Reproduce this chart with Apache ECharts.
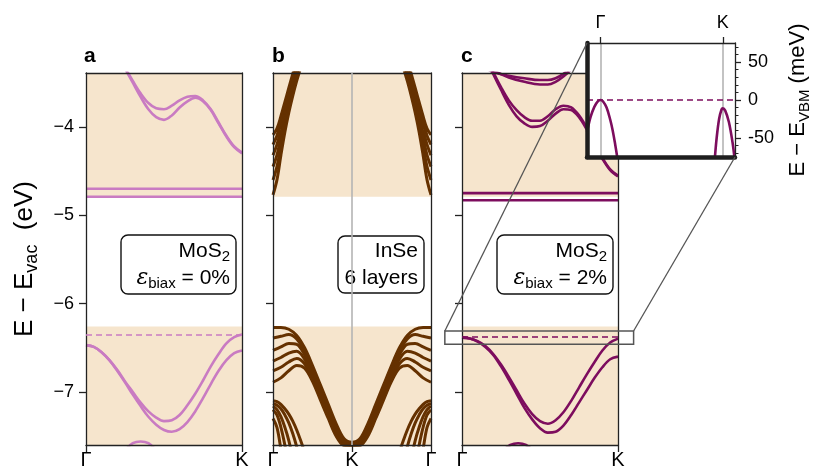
<!DOCTYPE html>
<html><head><meta charset="utf-8">
<script src="https://cdn.jsdelivr.net/npm/echarts@6/dist/echarts.min.js"></script>
<style>html,body{margin:0;padding:0;background:#fff}#c{width:813px;height:474px}</style>
</head><body><div id="c"></div>
<script>
// ---------------- data ----------------
const yMin = -7.6, yMax = -3.39;
const yTicks = [-7, -6, -5, -4];
const xTicksAC = [0, 1], xLabelsAC = ['Γ', 'K'];
const xTicksB = [0, 1, 2], xLabelsB = ['Γ', 'K', 'Γ'];
const shadeCBM = -4.79, shadeVBM = -6.26;

// panel a : MoS2, 0 %
const kV = [0,0.05,0.1,0.15,0.2,0.25,0.3,0.35,0.4,0.45,0.5,0.55,0.6,0.65,0.7,0.75,0.8,0.85,0.9,0.95,1.0];
const aVal1 = [-6.47,-6.49,-6.55,-6.64,-6.75,-6.88,-7.00,-7.12,-7.22,-7.29,-7.33,-7.32,-7.26,-7.15,-7.02,-6.87,-6.71,-6.57,-6.45,-6.38,-6.35];
const aVal2 = [-6.47,-6.49,-6.55,-6.64,-6.76,-6.89,-7.03,-7.16,-7.28,-7.37,-7.43,-7.45,-7.42,-7.34,-7.22,-7.07,-6.91,-6.76,-6.64,-6.56,-6.53];
const kCA = [0.2,0.25,0.3,0.35,0.4,0.45,0.5,0.55,0.6,0.65,0.7,0.75,0.8,0.85,0.9,0.95,1.0];
const aCond1 = [-3.18,-3.33,-3.48,-3.62,-3.73,-3.79,-3.80,-3.76,-3.70,-3.66,-3.65,-3.70,-3.80,-3.95,-4.10,-4.22,-4.29];
const aCond2 = [-3.18,-3.34,-3.50,-3.66,-3.80,-3.89,-3.92,-3.87,-3.78,-3.71,-3.67,-3.71,-3.81,-3.96,-4.11,-4.23,-4.30];
const kLow = [0.25,0.3,0.35,0.4,0.45];
const aLow = [-7.66,-7.58,-7.56,-7.58,-7.66];
const aFlat = [-4.70, -4.79];
const aVBM = -6.35;

// panel b : InSe 6 layers (Γ-K, mirrored K-Γ)
const kBc = [0,0.05,0.1,0.15,0.2,0.25,0.3,0.35,0.4];
const bC1 = [-4.09,-4.02,-3.88,-3.72,-3.56,-3.40,-3.24,-3.08,-2.92];
const bC2 = [-4.20,-4.10,-3.94,-3.78,-3.61,-3.45,-3.29,-3.13,-2.97];
const bC3 = [-4.32,-4.20,-4.03,-3.85,-3.67,-3.50,-3.34,-3.19,-3.03];
const bC4 = [-4.45,-4.32,-4.12,-3.92,-3.73,-3.55,-3.39,-3.23,-3.08];
const bC5 = [-4.60,-4.45,-4.22,-3.99,-3.78,-3.60,-3.43,-3.28,-3.13];
const bC6 = [-4.77,-4.60,-4.32,-4.06,-3.84,-3.65,-3.48,-3.33,-3.18];
const kBv = [0,0.1,0.2,0.3,0.4,0.5,0.6,0.7,0.8,0.9,1.0];
const bV1 = [-6.27,-6.27,-6.29,-6.36,-6.50,-6.70,-6.92,-7.14,-7.36,-7.53,-7.57];
const bV2 = [-6.39,-6.37,-6.35,-6.40,-6.54,-6.74,-6.96,-7.18,-7.40,-7.55,-7.58];
const bV3 = [-6.53,-6.49,-6.45,-6.46,-6.58,-6.78,-7.00,-7.21,-7.43,-7.57,-7.59];
const bV4 = [-6.65,-6.61,-6.56,-6.54,-6.63,-6.82,-7.03,-7.24,-7.46,-7.58,-7.60];
const bV5 = [-6.76,-6.72,-6.66,-6.62,-6.68,-6.85,-7.06,-7.27,-7.48,-7.60,-7.61];
const bV6 = [-6.89,-6.84,-6.76,-6.70,-6.73,-6.88,-7.09,-7.30,-7.50,-7.61,-7.62];
const kBl = [0,0.05,0.1,0.15,0.2,0.25,0.3,0.35,0.4,0.45];
const bL1 = [-7.10,-7.11,-7.14,-7.19,-7.25,-7.33,-7.43,-7.55,-7.68,-7.82];
const bL2 = [-7.13,-7.15,-7.19,-7.26,-7.35,-7.47,-7.62,-7.80];
const bL3 = [-7.16,-7.20,-7.28,-7.40,-7.55,-7.75];
const bL4 = [-7.20,-7.26,-7.40,-7.60,-7.85];
const bL5 = [-7.30,-7.40,-7.65,-7.95];

// panel c : MoS2, 2 %
const cVal1 = [-6.385,-6.395,-6.425,-6.48,-6.57,-6.69,-6.83,-6.98,-7.13,-7.25,-7.33,-7.36,-7.32,-7.23,-7.10,-6.95,-6.80,-6.66,-6.53,-6.44,-6.396];
const cVal2 = [-6.385,-6.395,-6.43,-6.49,-6.58,-6.71,-6.86,-7.02,-7.18,-7.31,-7.41,-7.46,-7.45,-7.38,-7.26,-7.12,-6.98,-6.84,-6.72,-6.63,-6.60];
const kCC = [0.15,0.2,0.25,0.3,0.35,0.4,0.45,0.5,0.55,0.6,0.65,0.7,0.75,0.8,0.85,0.9,0.95,1.0];
const cCond1 = [-3.20,-3.38,-3.55,-3.70,-3.81,-3.89,-3.93,-3.93,-3.88,-3.80,-3.76,-3.78,-3.87,-4.01,-4.18,-4.35,-4.48,-4.55];
const cCond2 = [-3.21,-3.40,-3.58,-3.75,-3.88,-3.96,-4.00,-3.99,-3.93,-3.85,-3.80,-3.81,-3.89,-4.03,-4.20,-4.36,-4.49,-4.56];
const kCT = [0.15,0.2,0.3,0.4,0.5,0.55,0.6,0.65,0.7];
const cTop1 = [-3.33,-3.38,-3.42,-3.45,-3.47,-3.47,-3.45,-3.40,-3.33];
const cTop2 = [-3.30,-3.36,-3.44,-3.49,-3.52,-3.52,-3.49,-3.43,-3.35];
const kLowC = [0.26,0.31,0.36,0.41,0.46];
const cLow = [-7.67,-7.60,-7.58,-7.60,-7.67];
const cFlat = [-4.75, -4.83];
const cVBM = -6.385;

// inset (meV relative to VBM of panel c)
const inX = [-0.11, 1.10];
const inY = [-75, 75];
const inYTicks = [-50, 0, 50];
const inYMinor = [-70,-60,-40,-30,-20,-10,10,20,30,40,60,70];
const kInG = [-0.11,-0.08,-0.05,-0.02,0,0.02,0.05,0.08,0.1,0.12,0.135,0.15];
const inG = [-42,-22,-9,-1.5,0,-1.6,-10,-26,-40,-58,-73,-92];
const kInK = [0.92,0.936,0.95,0.97,0.99,1.0,1.02,1.05,1.08,1.095,1.11];
const inK = [-110,-75,-50,-25,-12.5,-11,-14,-29,-56,-75,-97];

// ---------------- styles ----------------
const FONT = '"Liberation Sans", Arial, sans-serif';
const PINK = '#c97bc2', PURPLE = '#7d0d5e', BROWN = '#653100', SHADE = '#f6e5cd', GRAY = '#b4b4b4';
const AX = {color: '#222', width: 1.3};

const pairs = (xs, ys) => ys.map((y, i) => [xs[i], y]);
const mirror = pts => pts.map(p => [2 - p[0], p[1]]).reverse();

function band(ai, data, color, width, z) {
  return {type: 'line', xAxisIndex: ai[0], yAxisIndex: ai[1], data, smooth: 0.35, symbol: 'none',
    lineStyle: {color, width}, z: z || 2, silent: true, animation: false, clip: true};
}
function shading(ai, xmin, xmax) {
  return {type: 'line', xAxisIndex: ai[0], yAxisIndex: ai[1], data: [], z: 1, silent: true,
    markArea: {silent: true, itemStyle: {color: SHADE, opacity: 1},
      data: [[{coord: [xmin, yMax]}, {coord: [xmax, shadeCBM]}],
             [{coord: [xmin, shadeVBM]}, {coord: [xmax, yMin]}]]}};
}
function hline(ai, y, color, z) {
  return {type: 'line', xAxisIndex: ai[0], yAxisIndex: ai[1], data: [], z: z || 2, silent: true,
    markLine: {silent: true, symbol: 'none', animation: false, label: {show: false},
      lineStyle: {color, width: 1.6, type: [6, 4]}, data: [{yAxis: y}]}};
}
function vlines(ai, xs, z) {
  return {type: 'line', xAxisIndex: ai[0], yAxisIndex: ai[1], data: [], z: z || 1.5, silent: true,
    markLine: {silent: true, symbol: 'none', animation: false, label: {show: false},
      lineStyle: {color: GRAY, width: 1.6, type: 'solid'}, data: xs.map(x => ({xAxis: x}))}};
}

function xAxisMain(gi, ticks, labels, min, max) {
  return {type: 'value', gridIndex: gi, min, max, position: 'bottom', z: 3,
    axisLine: {show: true, onZero: false, lineStyle: AX},
    axisTick: {show: true, customValues: ticks, length: 7, lineStyle: AX},
    axisLabel: {show: true, customValues: ticks, formatter: v => labels[ticks.indexOf(v)],
      fontSize: 20, margin: 5, color: '#000', fontFamily: FONT},
    splitLine: {show: false}};
}
function frame(gi, pos, min, max, width, z, color) {
  return {type: 'value', gridIndex: gi, min, max, position: pos, z: z || 3,
    axisLine: {show: true, onZero: false, lineStyle: {color: color || '#222', width: width || 1.3}},
    axisTick: {show: false}, axisLabel: {show: false}, splitLine: {show: false}};
}
function yAxisMain(gi, showLabels) {
  const a = {type: 'value', gridIndex: gi, min: yMin, max: yMax, position: 'left', z: 3,
    axisLine: {show: true, onZero: false, lineStyle: AX},
    axisTick: {show: true, customValues: yTicks, length: 7, lineStyle: AX},
    axisLabel: {show: showLabels, customValues: yTicks, fontSize: 18, margin: 12, color: '#000', fontFamily: FONT,
      formatter: v => (v < 0 ? '\u2212' : '') + Math.abs(v)},
    splitLine: {show: false}};
  if (showLabels) {
    a.name = 'E \u2212 E{s|vac}  (eV)';
    a.nameLocation = 'middle'; a.nameGap = 45; a.nameRotate = 90;
    a.nameTextStyle = {fontSize: 26, fontFamily: FONT, color: '#000', lineHeight: 32,
      rich: {s: {fontSize: 18, fontFamily: FONT, color: '#000', lineHeight: 32, verticalAlign: 'bottom'}}};
  }
  return a;
}

const option = {
  animation: false,
  backgroundColor: '#fff',
  textStyle: {fontFamily: FONT, color: '#000'},
  grid: [
    {left: 86, top: 73, width: 156, height: 372},
    {left: 273, top: 73, width: 158, height: 372},
    {left: 462, top: 73, width: 156, height: 372},
    {left: 587, top: 43, width: 156, height: 114, show: true, backgroundColor: '#fff', borderWidth: 0, z: 5}
  ],
  xAxis: [
    xAxisMain(0, xTicksAC, xLabelsAC, 0, 1), frame(0, 'top', 0, 1),
    xAxisMain(1, xTicksB, xLabelsB, 0, 2), frame(1, 'top', 0, 2),
    xAxisMain(2, xTicksAC, xLabelsAC, 0, 1), frame(2, 'top', 0, 1),
    {type: 'value', gridIndex: 3, min: inX[0], max: inX[1], position: 'top', z: 8,
      axisLine: {show: true, onZero: false, lineStyle: AX},
      axisTick: {show: true, customValues: [0, 1], length: 6, lineStyle: AX},
      axisLabel: {show: true, customValues: [0, 1], formatter: v => xLabelsAC[[0, 1].indexOf(v)],
        fontSize: 18, margin: 11, color: '#000', fontFamily: FONT},
      splitLine: {show: false}},
    frame(3, 'bottom', inX[0], inX[1], 4.5, 8, '#1e1e1e')
  ],
  yAxis: [
    yAxisMain(0, true), frame(0, 'right', yMin, yMax),
    yAxisMain(1, false), frame(1, 'right', yMin, yMax),
    yAxisMain(2, false), frame(2, 'right', yMin, yMax),
    {type: 'value', gridIndex: 3, min: inY[0], max: inY[1], position: 'right', z: 8,
      axisLine: {show: true, onZero: false, lineStyle: AX},
      axisTick: {show: true, customValues: inYTicks, length: 6, lineStyle: AX},
      axisLabel: {show: true, customValues: inYTicks, fontSize: 18, margin: 13, color: '#000', fontFamily: FONT},
      splitLine: {show: false},
      name: 'E \u2212 E{s|VBM} (meV)', nameLocation: 'middle', nameGap: 49, nameRotate: 90,
      nameTextStyle: {fontSize: 22, fontFamily: FONT, color: '#000', lineHeight: 28,
        rich: {s: {fontSize: 15, fontFamily: FONT, color: '#000', lineHeight: 28, verticalAlign: 'bottom'}}}},
    {type: 'value', gridIndex: 3, min: inY[0], max: inY[1], position: 'right', z: 8,
      axisLine: {show: false, onZero: false},
      axisTick: {show: true, customValues: inYMinor, length: 3.5, lineStyle: {color: '#222', width: 1}},
      axisLabel: {show: false}, splitLine: {show: false}},
    frame(3, 'left', inY[0], inY[1], 4.5, 8, '#1e1e1e')
  ],
  series: []
};

const S = option.series;
// panel a
S.push(shading([0, 0], 0, 1));
aFlat.forEach(y => S.push(band([0, 0], [[0, y], [1, y]], PINK, 2.6)));
S.push(hline([0, 0], aVBM, PINK));
S.push(band([0, 0], pairs(kV, aVal1), PINK, 2.6));
S.push(band([0, 0], pairs(kV, aVal2), PINK, 2.6));
S.push(band([0, 0], pairs(kCA, aCond1), PINK, 2.6));
S.push(band([0, 0], pairs(kCA, aCond2), PINK, 2.6));
S.push(band([0, 0], pairs(kLow, aLow), PINK, 2.6));
// panel b
S.push(shading([2, 2], 0, 2));
S.push(vlines([2, 2], [1]));
[bC1, bC2, bC3, bC4, bC5, bC6].forEach(b => {
  const l = pairs(kBc, b);
  S.push(band([2, 2], l, BROWN, 3));
  S.push(band([2, 2], mirror(l), BROWN, 3));
});
[bV1, bV2, bV3, bV4, bV5, bV6].forEach(b => {
  const l = pairs(kBv, b);
  S.push(band([2, 2], l.concat(mirror(l).slice(1)), BROWN, 3));
});
[bL1, bL2, bL3, bL4, bL5].forEach(b => {
  const l = pairs(kBl, b);
  S.push(band([2, 2], l, BROWN, 3));
  S.push(band([2, 2], mirror(l), BROWN, 3));
});
// panel c
S.push(shading([4, 4], 0, 1));
cFlat.forEach(y => S.push(band([4, 4], [[0, y], [1, y]], PURPLE, 2.6)));
S.push(hline([4, 4], cVBM, PURPLE));
const cRef = S.length;
S.push(band([4, 4], pairs(kV, cVal1), PURPLE, 2.6));
S.push(band([4, 4], pairs(kV, cVal2), PURPLE, 2.6));
S.push(band([4, 4], pairs(kCC, cCond1), PURPLE, 2.6));
S.push(band([4, 4], pairs(kCC, cCond2), PURPLE, 2.6));
S.push(band([4, 4], pairs(kCT, cTop1), PURPLE, 2.6));
S.push(band([4, 4], pairs(kCT, cTop2), PURPLE, 2.6));
S.push(band([4, 4], pairs(kLowC, cLow), PURPLE, 2.6));
// inset
S.push(vlines([6, 6], [0, 1], 6));
S.push(hline([6, 6], 0, PURPLE, 6));
const iRef = S.length;
S.push(band([6, 6], pairs(kInG, inG), PURPLE, 2.6, 7));
S.push(band([6, 6], pairs(kInK, inK), PURPLE, 2.6, 7));

const chart = echarts.init(document.getElementById('c'), null, {renderer: 'canvas'});
chart.setOption(option);

// ---------------- annotations ----------------
const px = (si, pt) => chart.convertToPixel({seriesIndex: si}, pt);
const rTL = px(cRef, [inX[0], cVBM + inY[1] / 1000]);
const rBR = px(cRef, [inX[1], cVBM + inY[0] / 1000]);
const iTL = px(iRef, [inX[0], inY[1]]);
const iBR = px(iRef, [inX[1], inY[0]]);

function boxText(x, y, w, h, text, rich) {
  return {type: 'group', z: 4, children: [
    {type: 'rect', shape: {x, y, width: w, height: h, r: 7}, z: 4,
      style: {fill: '#fff', stroke: '#111', lineWidth: 1.4}},
    {type: 'text', x: x + w - 6, y: y + h / 2, z: 4,
      style: {text, align: 'right', verticalAlign: 'middle', fill: '#000', rich}}
  ]};
}
const richBox = {
  m: {fontSize: 21, fontFamily: FONT, fill: '#000', lineHeight: 27},
  s: {fontSize: 15, fontFamily: FONT, fill: '#000', lineHeight: 27, verticalAlign: 'bottom'},
  e: {fontSize: 22, fontFamily: '"DejaVu Serif", serif', fontStyle: 'italic', fill: '#000', lineHeight: 27}
};
const lbl = (t, x) => ({type: 'text', x, y: 56, z: 4,
  style: {text: t, fontSize: 21, fontWeight: 'bold', fontFamily: FONT, fill: '#000', verticalAlign: 'middle', align: 'left'}});

chart.setOption({graphic: [
  lbl('a', 84), lbl('b', 272), lbl('c', 461),
  boxText(121, 235, 115, 59, '{m|MoS}{s|2}\n{e|ε}{s|biax}{m| = 0%}', richBox),
  boxText(338, 236, 86, 57, '{m|InSe}\n{m|6 layers}', richBox),
  boxText(497, 235, 116, 59, '{m|MoS}{s|2}\n{e|ε}{s|biax}{m| = 2%}', richBox),
  {type: 'rect', z: 10, shape: {x: rTL[0], y: rTL[1], width: rBR[0] - rTL[0], height: rBR[1] - rTL[1]},
    style: {fill: 'none', stroke: '#555', lineWidth: 1.5}},
  {type: 'line', z: 10, shape: {x1: rTL[0], y1: rTL[1], x2: iTL[0], y2: iTL[1]}, style: {stroke: '#555', lineWidth: 1.3}},
  {type: 'line', z: 10, shape: {x1: rBR[0], y1: rTL[1], x2: iBR[0], y2: iBR[1]}, style: {stroke: '#555', lineWidth: 1.3}}
]});
</script>
</body></html>
